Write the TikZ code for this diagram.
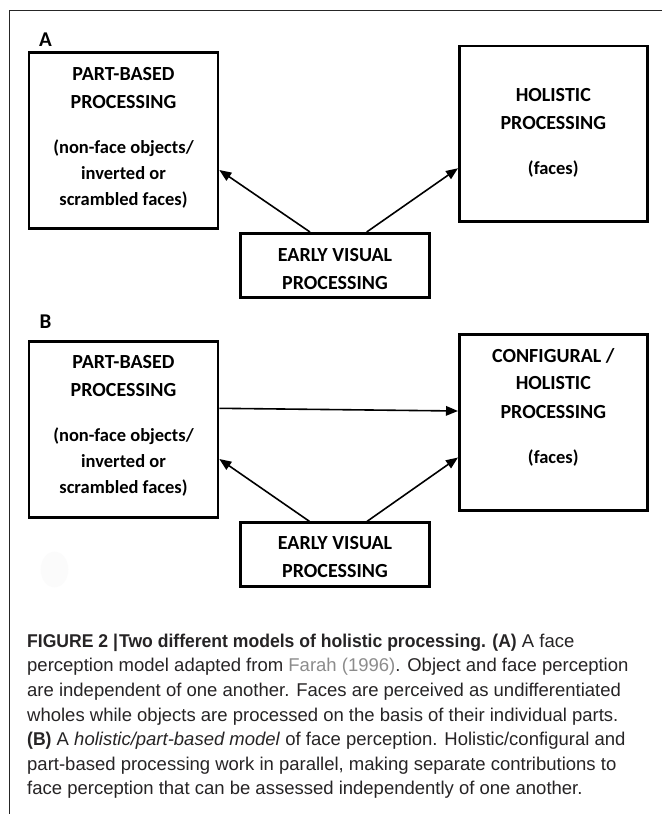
\documentclass[tikz,border=0pt]{standalone}
\usepackage{fontspec}
\setmainfont{Liberation Sans}[BoldFeatures={FakeStretch=0.95}]
\newfontfamily\boxfont{Carlito}
\usetikzlibrary{arrows.meta}
\definecolor{captgray}{RGB}{38,36,37}
\definecolor{citegray}{RGB}{140,140,140}
\newcommand{\subtxt}{\fontsize{18.5}{26}\selectfont}

\begin{document}
\begin{tikzpicture}[x=1pt, y=-1pt,
  procbox/.style={draw, line width=2.6pt, minimum width=189pt, inner sep=0pt},
  boxtext/.style={anchor=north, align=center, inner sep=0pt, font=\boxfont\bfseries\fontsize{20}{26}\selectfont},
  flow/.style={line width=1.6pt, -{Triangle[length=12pt, width=9.5pt]}},
  panel/.style={font=\boxfont\bfseries\fontsize{21}{24}\selectfont, inner sep=0pt}]
  \useasboundingbox[fill=white] (0,0) rectangle (662,814);
  \draw[line width=1.3pt, black!85] (662,10.7) -- (9.3,10.7) -- (9.3,814);

  \node[panel] (labA) at (45.5,39.3) {A};
  \node[procbox, minimum height=175.6pt] (partA) at (123.5,140.5) {};
  \node[procbox, minimum width=188.4pt, minimum height=175.7pt] (holA) at (553.5,133.85) {};
  \node[procbox, minimum height=64pt] (earlyA) at (335,265.3) {};
  \node[boxtext] (partAtext) at (123.5,66.8) {PART-BASED\\[2pt]PROCESSING\\[19pt]\subtxt(non-face objects/\\\subtxt inverted or\\\subtxt scrambled faces)};
  \node[boxtext] (holAtext) at (553.3,88.5) {HOLISTIC\\[2pt]PROCESSING\\[19pt]\subtxt(faces)};
  \node[boxtext] (earlyAtext) at (335,248.5) {EARLY VISUAL\\[2pt]PROCESSING};
  \draw[flow] ([xshift=-25pt]earlyA.north) -- ([yshift=-29.5pt]partA.east);
  \draw[flow] ([xshift=31.7pt]earlyA.north) -- ([yshift=-34.4pt]holA.west);

  \node[panel] (labB) at (45.6,321.7) {B};
  \node[procbox, minimum height=175.6pt] (partB) at (123.5,429.5) {};
  \node[procbox, minimum width=188.4pt, minimum height=176pt] (confB) at (553.5,422.7) {};
  \node[procbox, minimum height=64pt] (earlyB) at (335,554.7) {};
  \node[boxtext] (partBtext) at (123.5,355.5) {PART-BASED\\[2pt]PROCESSING\\[19pt]\subtxt(non-face objects/\\\subtxt inverted or\\\subtxt scrambled faces)};
  \node[boxtext] (confBtext) at (553.3,348.3) {CONFIGURAL /\\[1.3pt]HOLISTIC\\[2.7pt]PROCESSING\\[19pt]\subtxt(faces)};
  \node[boxtext] (earlyBtext) at (335,536.5) {EARLY VISUAL\\[2pt]PROCESSING};
  \draw[flow] ([yshift=21.2pt]partB.east) -- ([yshift=11.7pt]confB.west);
  \draw[flow] ([xshift=-25.5pt]earlyB.north) -- ([yshift=-29.5pt]partB.east);
  \draw[flow] ([xshift=32pt]earlyB.north) -- ([yshift=-34.8pt]confB.west);
  \fill[black!1.5] (54.5,569.5) ellipse [x radius=13.8pt, y radius=17.8pt];

  \node[anchor=north west, inner sep=0pt, align=left, text=captgray, font=\fontsize{18.5}{24.6}\selectfont] (caption) at (27,633.6) {\textbf{FIGURE 2 |\hspace{1pt}Two different models of holistic processing. (A)} A face\\
    perception model adapted from \textcolor{citegray}{Farah (1996)}. Object and face perception\\
    are independent of one another. Faces are perceived as undifferentiated\\
    wholes while objects are processed on the basis of their individual parts.\\
    \textbf{(B)} A \textit{holistic/part-based model} of face perception. Holistic/configural and\\
    part-based processing work in parallel, making separate contributions to\\
    face perception that can be assessed independently of one another.};
\end{tikzpicture}
\end{document}
